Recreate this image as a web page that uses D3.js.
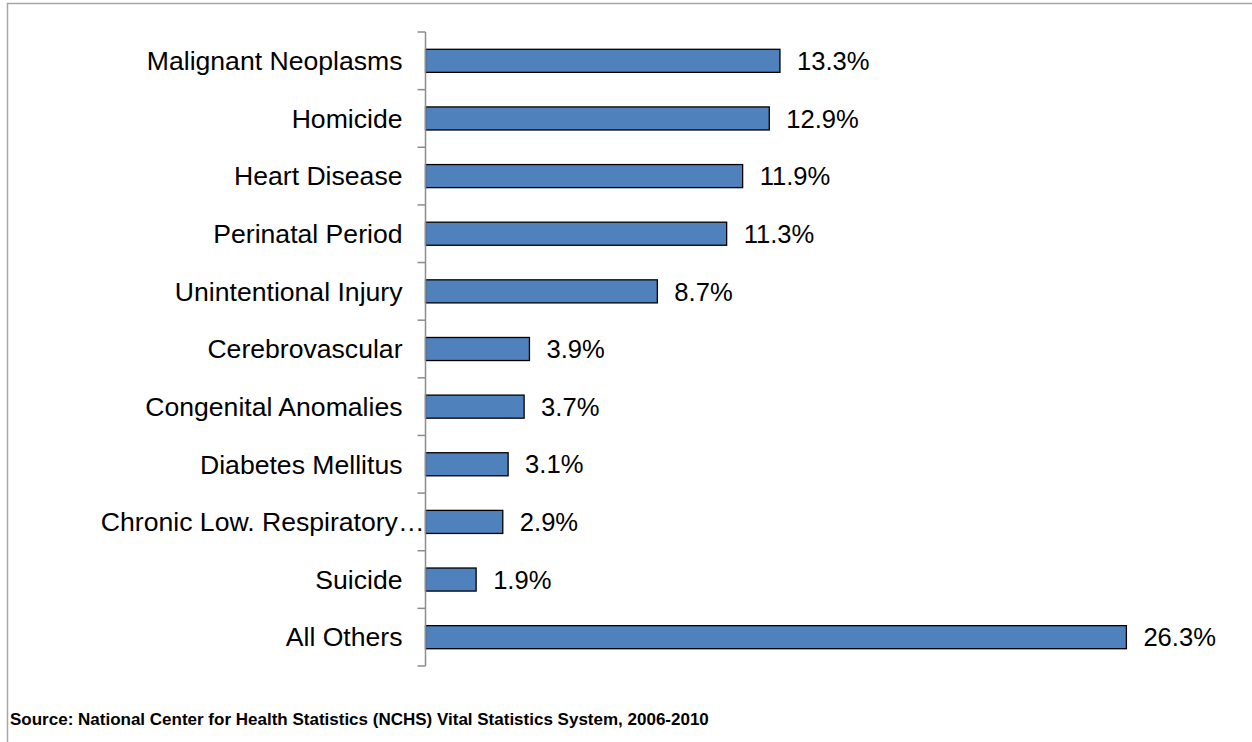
<!DOCTYPE html>
<html>
<head>
<meta charset="utf-8">
<script src="https://cdn.jsdelivr.net/npm/d3@7"></script>
<style>
  body { margin: 0; background: #fff; }
  text { font-family: "Liberation Sans", Arial, sans-serif; }
</style>
</head>
<body>
<div id="chart"></div>
<script>
// data
const causes = ["Malignant Neoplasms", "Homicide", "Heart Disease", "Perinatal Period",
  "Unintentional Injury", "Cerebrovascular", "Congenital Anomalies", "Diabetes Mellitus",
  "Chronic Low. Respiratory\u2026", "Suicide", "All Others"];
const percents = [13.3, 12.9, 11.9, 11.3, 8.7, 3.9, 3.7, 3.1, 2.9, 1.9, 26.3];
const sourceNote = "Source: National Center for Health Statistics (NCHS) Vital Statistics System, 2006-2010";

const W = 1252, H = 742;
const axisX = 425.5;

const svg = d3.select("#chart").append("svg")
    .attr("width", W)
    .attr("height", H);

// outer frame (only left and top edges are inside the picture)
svg.append("path")
    .attr("d", `M7.5,${H} V3.5 H${W}`)
    .attr("fill", "none")
    .attr("stroke", "#a6a6a6")
    .attr("stroke-width", 1.5);

const y = d3.scaleBand()
    .domain(causes)
    .range([32, 666])
    .paddingInner(0.6)
    .paddingOuter(0.3);

const x = d3.scaleLinear()
    .domain([0, 30])
    .range([axisX, axisX + 30 * 26.65]);

const data = causes.map((c, i) => ({cause: c, value: percents[i]}));

// bars
svg.append("g").selectAll("rect")
  .data(data)
  .join("rect")
    .attr("x", x(0))
    .attr("y", d => y(d.cause))
    .attr("width", d => x(d.value) - x(0))
    .attr("height", y.bandwidth())
    .attr("fill", "#4f81bd")
    .attr("stroke", "#000")
    .attr("stroke-width", 1.3);

// value labels
svg.append("g").selectAll("text")
  .data(data)
  .join("text")
    .attr("x", d => x(d.value) + 17)
    .attr("y", d => y(d.cause) + y.bandwidth() / 2)
    .attr("dy", "0.36em")
    .attr("font-size", 25.6)
    .attr("fill", "#000")
    .text(d => d.value.toFixed(1) + "%");

// category axis with ticks between categories
const tickYs = d3.range(causes.length + 1).map(i => 32 + i * (634 / causes.length));
const axis = svg.append("g");
axis.append("line")
    .attr("x1", axisX).attr("x2", axisX)
    .attr("y1", tickYs[0]).attr("y2", tickYs[tickYs.length - 1])
    .attr("stroke", "#8c8c8c")
    .attr("stroke-width", 1.5);
axis.selectAll("line.tick")
  .data(tickYs)
  .join("line")
    .attr("class", "tick")
    .attr("x1", axisX - 8).attr("x2", axisX)
    .attr("y1", d => d).attr("y2", d => d)
    .attr("stroke", "#8c8c8c")
    .attr("stroke-width", 1.5);

// category labels
svg.append("g").selectAll("text")
  .data(causes)
  .join("text")
    .attr("x", d => d.endsWith("\u2026") ? axisX - 1 : axisX - 23)
    .attr("y", d => y(d) + y.bandwidth() / 2)
    .attr("dy", "0.35em")
    .attr("text-anchor", "end")
    .attr("font-size", 26.6)
    .attr("fill", "#000")
    .text(d => d);

// source note
svg.append("text")
    .attr("x", 10)
    .attr("y", 725)
    .attr("font-size", 17)
    .attr("font-weight", "bold")
    .attr("fill", "#000")
    .text(sourceNote);
</script>
</body>
</html>
